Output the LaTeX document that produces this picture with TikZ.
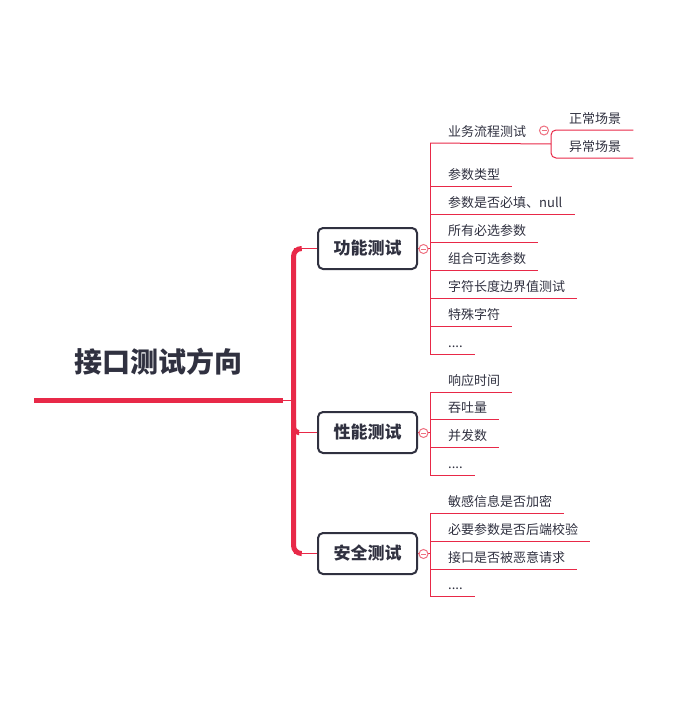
\documentclass[tikz,border=0pt]{standalone}
\usepackage{fontspec}
\setmainfont{Noto Sans CJK SC}
\usepackage{tikz}
\definecolor{mapred}{RGB}{232,41,72}
\definecolor{mapink}{RGB}{48,49,64}
\definecolor{foldpink}{RGB}{238,112,128}
\tikzset{
    every node/.style={text=mapink},
    root/.style={inner sep=0, font=\fontsize{28}{30}\selectfont\bfseries},
    topic/.style={draw=mapink, line width=2pt, rounded corners=5pt,
        minimum width=99pt, minimum height=41pt,
        font=\fontsize{17}{19}\selectfont\bfseries},
    leaf/.style={anchor=south west, inner xsep=12pt, inner ysep=5.5pt,
        text height=0.88em, text depth=0.12em, font=\fontsize{13}{15}\selectfont},
    fold/.style={circle, draw=foldpink, fill=white, line width=1pt,
        minimum size=9pt, inner sep=0,
        path picture={\draw[foldpink, line width=1pt]
            ([xshift=-2.5pt]path picture bounding box.center) --
            ([xshift=2.5pt]path picture bounding box.center);}}
}
\tikzset{
    trunk/.style={draw=mapred, line width=5pt},
    twig/.style={draw=mapred, line width=1pt}
}

\begin{document}
\begin{tikzpicture}[x=1pt, y=-1pt]
	\useasboundingbox (0,0) rectangle (689,725);
	\node (root) [root] at (158,362) {接口测试方向};
	\node (t1) [topic] at (367.5,248.5) {功能测试};
	\node (t2) [topic] at (367.5,432.5) {性能测试};
	\node (t3) [topic] at (367.5,553.5) {安全测试};

	\coordinate (rl) at (34,400.5);
	\coordinate (rr) at (283,400.5);
	\coordinate (hub) at (293.5,400.5);
	\coordinate (bus1) at (293.5,248.5);
	\coordinate (bus2) at (293.5,432.5);
	\coordinate (bus3) at (293.5,553.5);
	\coordinate (stub1) at (301,248.5);
	\coordinate (stub2) at (299,432.5);
	\coordinate (stub3) at (301,553.5);
	\coordinate (fx1) at (430,143);
	\coordinate (fx2) at (430,392);
	\coordinate (fx3) at (430,513);
	\coordinate (bk) at (551,144);

	% trunk
	\draw[trunk] (rl) -- (rr);
	\draw[twig] (rr) -- (hub);
	\draw[trunk, rounded corners=8pt] (stub1) -- (bus1) -- (bus3) -- (stub3);
	\draw[trunk, rounded corners=5pt] (293.5,420) -- (bus2) -- (stub2);
	\draw[twig] (bus1) -- (t1.west); \draw[twig] (bus2) -- (t2.west);
	\draw[twig] (bus3) -- (t3.west);

	% 功能测试
	\node (l11) [leaf] at (436,143) {业务流程测试};
	\node (l12) [leaf] at (436,186) {参数类型};
	\node (l13) [leaf] at (436,214) {参数是否必填、null};
	\node (l14) [leaf] at (436,242) {所有必选参数};
	\node (l15) [leaf] at (436,270) {组合可选参数};
	\node (l16) [leaf] at (436,298) {字符长度边界值测试};
	\node (l17) [leaf] at (436,326) {特殊字符};
	\node (l18) [leaf] at (436,354) {....};
	\node (s1) [leaf] at (557,130) {正常场景};
	\node (s2) [leaf] at (557,158) {异常场景};

	\draw[twig] (t1.east) -- (t1.east -| fx1);
	\draw[twig] (fx1) -- (l18.south west -| fx1);
	\draw[twig] (fx1) -- (bk);
	\foreach \n in {l12,l13,l14,l15,l16,l17,l18}
		\draw[twig] (\n.south west -| fx1) -- (\n.south east);
	\draw[twig, rounded corners=5pt] (s1.south east) -- (s1.south west -| bk)
		-- (s2.south west -| bk) -- (s2.south east);
	\node (f11) [fold] at (544,130.5) {};
	\node (f1) [fold] at (423.5,249) {};

	% 性能测试
	\node (l21) [leaf] at (436,392) {响应时间};
	\node (l22) [leaf] at (436,419) {吞吐量};
	\node (l23) [leaf] at (436,447) {并发数};
	\node (l24) [leaf] at (436,475) {....};

	\draw[twig] (t2.east) -- (t2.east -| fx2);
	\draw[twig] (fx2) -- (l24.south west -| fx2);
	\foreach \n in {l21,l22,l23,l24}
		\draw[twig] (\n.south west -| fx2) -- (\n.south east);
	\node (f2) [fold] at (423.5,433) {};

	% 安全测试
	\node (l31) [leaf] at (436,513) {敏感信息是否加密};
	\node (l32) [leaf] at (436,541) {必要参数是否后端校验};
	\node (l33) [leaf] at (436,569) {接口是否被恶意请求};
	\node (l34) [leaf] at (436,596) {....};

	\draw[twig] (t3.east) -- (t3.east -| fx3);
	\draw[twig] (fx3) -- (l34.south west -| fx3);
	\foreach \n in {l31,l32,l33,l34}
		\draw[twig] (\n.south west -| fx3) -- (\n.south east);
	\node (f3) [fold] at (423.5,554) {};
\end{tikzpicture}
\end{document}
